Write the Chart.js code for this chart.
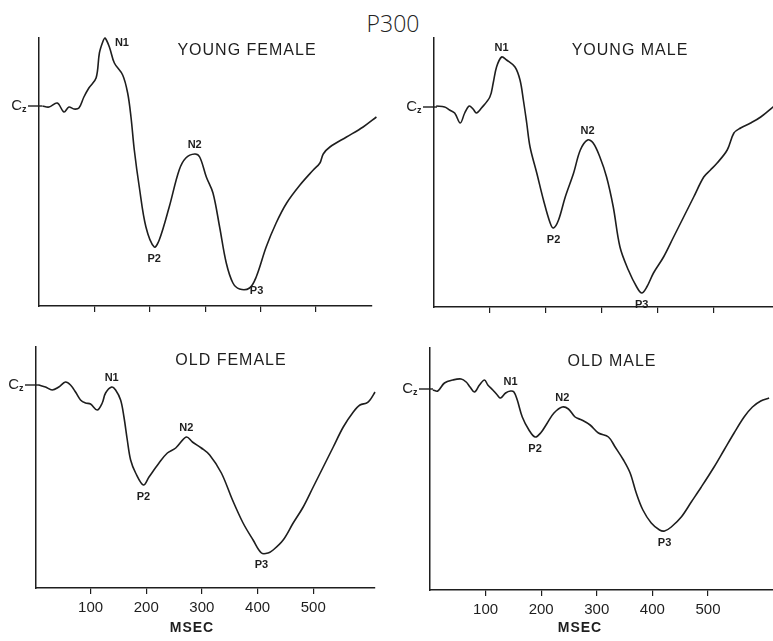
<!DOCTYPE html>
<html>
<head>
<meta charset="utf-8">
<title>P300</title>
<script src="https://cdn.jsdelivr.net/npm/chart.js@4"></script>
<style>
  body { margin: 0; background: #fff; }
  #wrap { position: relative; width: 773px; height: 641px; overflow: hidden; }
  #wrap canvas { position: absolute; }
  #titulo { position: absolute; left: 0; top: 8px; width: 786px; text-align: center;
            font: 300 23px "Open Sans", sans-serif; line-height: 30px; color: #222; }
</style>
</head>
<body>
<div id="wrap">
  <div id="titulo">P300</div>
  <canvas id="yf" width="386" height="320" style="left:0;top:0"></canvas>
  <canvas id="ym" width="387" height="320" style="left:386px;top:0"></canvas>
  <canvas id="of" width="386" height="321" style="left:0;top:320px"></canvas>
  <canvas id="om" width="387" height="321" style="left:386px;top:320px"></canvas>
</div>
<script>
// Dados (tempo em ms, amplitude relativa a Cz; negativo = para cima)
const msecTicks = [100, 200, 300, 400, 500];
const peakNames = ['N1', 'N2', 'P2', 'P3'];

// Young female
const yfMs  = [6, 18, 33, 45, 54, 63, 72, 81, 90, 103, 109, 115, 119, 127, 136, 151, 160, 166, 172, 181,
               193, 208, 217, 235, 253, 265, 281, 290, 302, 314, 326, 338, 350, 362, 380, 392, 410, 428,
               447, 471, 495, 507, 513, 525, 555, 585, 609];
const yfAmp = [0, 0.1, -0.3, 0.6, 0.1, 0.3, 0.2, -0.9, -1.8, -2.8, -5.3, -6.4, -6.8, -5.9, -4.3, -3.1, -1.3, 1.1, 4.4, 8.1,
               12.1, 14.1, 13.4, 10.1, 6.4, 5.2, 4.8, 5.1, 7.1, 8.7, 12.1, 15.7, 17.7, 18.3, 18.2, 17.1, 14.1, 11.7,
               9.7, 7.9, 6.4, 5.7, 4.8, 4.1, 3.1, 2.1, 1.1];
const yfPeaks = [119, 281, 208, 362];

// Young male
const ymMs  = [4, 19, 28, 37, 47, 55, 63, 70, 76, 85, 100, 106, 112, 121, 130, 145, 154, 160, 166, 172,
               184, 196, 208, 214, 223, 235, 250, 262, 275, 285, 297, 309, 321, 333, 348, 363, 372, 381,
               393, 411, 429, 447, 465, 483, 495, 507, 525, 537, 549, 567, 585, 609];
const ymAmp = [-0.1, 0, 0.3, 0.6, 1.6, 0.6, -0.1, 0.2, 0.6, 0.1, -1.0, -2.4, -4.0, -5.0, -4.7, -4.0, -2.7, -0.7, 1.6, 4.0,
               6.6, 9.3, 11.6, 12.1, 11.3, 9.0, 6.6, 4.3, 3.3, 3.6, 5.0, 7.0, 10.0, 14.0, 16.3, 18.0, 18.6, 18.0,
               16.6, 15.0, 13.0, 11.0, 9.0, 7.0, 6.3, 5.6, 4.3, 2.6, 2.1, 1.6, 1.0, -0.1];
const ymPeaks = [121, 275, 214, 372];

// Old female
const ofMs  = [7, 19, 31, 43, 55, 64, 73, 82, 91, 100, 112, 121, 127, 138, 145, 154, 160, 166, 172, 181,
               195, 205, 223, 238, 253, 272, 283, 299, 314, 335, 355, 374, 392, 407, 419, 428, 446, 464,
               482, 500, 518, 536, 554, 572, 584, 596, 602, 611];
const ofAmp = [0, 0.2, 0.5, 0.2, -0.3, 0, 0.7, 1.5, 1.8, 1.9, 2.5, 1.8, 0.8, 0.2, 0.5, 1.5, 3.2, 5.5, 7.5, 8.8,
               10.0, 9.2, 7.8, 6.8, 6.3, 5.2, 5.7, 6.3, 7.0, 8.8, 11.5, 13.8, 15.5, 16.8, 16.8, 16.5, 15.5, 13.8,
               12.2, 10.2, 8.2, 6.2, 4.2, 2.7, 2.0, 1.8, 1.5, 0.7];
const ofPeaks = [138, 272, 195, 407];

// Old male
const omMs  = [5, 14, 26, 41, 56, 65, 72, 80, 89, 98, 104, 113, 121, 127, 136, 145, 151, 157, 166, 178,
               189, 199, 211, 223, 238, 249, 261, 273, 288, 303, 321, 333, 348, 360, 371, 383, 398, 413,
               422, 434, 452, 470, 488, 511, 529, 547, 565, 580, 595, 610];
const omAmp = [0.1, 0.2, -0.6, -0.9, -1.0, -0.7, -0.2, 0.3, -0.4, -0.9, -0.4, 0.1, 0.6, 0.9, 0.4, 0.2, 0.3, 1.1, 2.8, 4.1,
               4.8, 4.4, 3.4, 2.4, 1.8, 2.0, 2.8, 3.1, 3.6, 4.4, 4.8, 5.8, 7.1, 8.4, 10.4, 12.1, 13.4, 14.1,
               14.2, 13.8, 12.8, 11.3, 9.8, 7.8, 6.1, 4.4, 2.8, 1.8, 1.2, 0.9];
const omPeaks = [145, 238, 189, 422];

const INK = '#1e1e1e';

// Plugin para Cz, titulo do painel, nomes dos picos e MSEC
const decoracao = {
    id: 'decoracao',
    afterDatasetsDraw(chart, args, o) {
        const { ctx, chartArea: ca, scales: { x, y } } = chart;
        ctx.save();
        ctx.fillStyle = INK;
        ctx.strokeStyle = INK;

        // marca Cz
        const cz = y.getPixelForValue(0);
        ctx.lineWidth = 1.4;
        ctx.beginPath();
        ctx.moveTo(ca.left - 11, cz);
        ctx.lineTo(ca.left + 3, cz);
        ctx.stroke();
        ctx.textBaseline = 'middle';
        ctx.textAlign = 'right';
        ctx.font = '15px "Liberation Sans"';
        ctx.fillText('C', ca.left - 17, cz);
        ctx.textAlign = 'left';
        ctx.font = 'bold 9px "Liberation Sans"';
        ctx.fillText('z', ca.left - 17, cz + 4);

        // titulo do painel
        ctx.textAlign = 'center';
        ctx.font = '16px "Liberation Sans"';
        ctx.letterSpacing = '1px';
        ctx.fillText(o.titulo, o.tituloPos[0], o.tituloPos[1]);
        ctx.letterSpacing = '0px';

        // nomes dos picos, presos ao ponto da curva mais proximo
        ctx.font = 'bold 11px "Liberation Sans"';
        const pts = chart.data.datasets[0].data;
        o.picos.forEach((t, i) => {
            const nome = peakNames[i];
            const p = pts.reduce((a, b) => Math.abs(b.x - t) < Math.abs(a.x - t) ? b : a);
            const sh = (o.desloc && o.desloc[nome]) || (nome[0] === 'N' ? [0, -9] : [0, 12]);
            ctx.fillText(nome, x.getPixelForValue(p.x) + sh[0], y.getPixelForValue(p.y) + sh[1]);
        });

        if (o.msec) {
            ctx.font = 'bold 14px "Liberation Sans"';
            ctx.letterSpacing = '1px';
            ctx.fillText('MSEC', o.msec[0], o.msec[1]);
        }
        ctx.restore();
    }
};

function desenharPainel(id, ms, amp, picos, cfg) {
    const comRotulos = !!cfg.msec;
    return new Chart(document.getElementById(id), {
        type: 'line',
        data: {
            datasets: [{
                data: ms.map((t, i) => ({ x: t, y: amp[i] })),
                borderColor: INK,
                borderWidth: 1.6,
                pointRadius: 0,
                fill: false,
                tension: 0.35,
                clip: false
            }]
        },
        options: {
            responsive: false,
            animation: false,
            devicePixelRatio: 1,
            layout: { padding: { top: cfg.padTop, right: cfg.padRight, left: 0, bottom: 0 } },
            plugins: {
                legend: { display: false },
                tooltip: { enabled: false },
                decoracao: {
                    titulo: cfg.titulo,
                    tituloPos: cfg.tituloPos,
                    picos: picos,
                    desloc: cfg.desloc,
                    msec: cfg.msec
                }
            },
            scales: {
                x: {
                    type: 'linear',
                    min: cfg.xMin,
                    max: cfg.xMax,
                    afterBuildTicks: s => { s.ticks = msecTicks.map(v => ({ value: v })); },
                    afterFit: s => { s.height = cfg.xH; },
                    ticks: {
                        autoSkip: false,
                        maxRotation: 0,
                        padding: 5,
                        color: comRotulos ? INK : 'rgba(0,0,0,0)',
                        font: { family: '"Liberation Sans"', size: 15 }
                    },
                    grid: { drawOnChartArea: false, drawTicks: true, tickLength: 6, color: INK, lineWidth: 1.2 },
                    border: { display: true, color: INK, width: 1.5 }
                },
                y: {
                    reverse: true,
                    min: cfg.yMin,
                    max: cfg.yMax,
                    afterFit: s => { s.width = cfg.yW; },
                    ticks: { display: false },
                    grid: { display: false },
                    border: { display: true, color: INK, width: 1.5 }
                }
            }
        },
        plugins: [decoracao]
    });
}

document.addEventListener('DOMContentLoaded', function() {
    desenharPainel('yf', yfMs, yfAmp, yfPeaks, {
        titulo: 'YOUNG FEMALE', tituloPos: [247, 51],
        padTop: 38, padRight: 14, xH: 14, yW: 39,
        xMin: 0, xMax: 601, yMin: -6.8, yMax: 20,
        desloc: { N1: [17, 5], P3: [17, 2] }
    });
    desenharPainel('ym', ymMs, ymAmp, ymPeaks, {
        titulo: 'YOUNG MALE', tituloPos: [244, 51],
        padTop: 38, padRight: 0, xH: 13, yW: 48,
        xMin: 0, xMax: 607, yMin: -6.9, yMax: 20
    });
    desenharPainel('of', ofMs, ofAmp, ofPeaks, {
        titulo: 'OLD FEMALE', tituloPos: [231, 41],
        padTop: 27, padRight: 11, xH: 53, yW: 36,
        xMin: 2, xMax: 611, yMin: -3.8, yMax: 20.3,
        msec: [192, 308]
    });
    desenharPainel('om', omMs, omAmp, omPeaks, {
        titulo: 'OLD MALE', tituloPos: [226, 42],
        padTop: 28, padRight: 0, xH: 51, yW: 44,
        xMin: 0, xMax: 617, yMin: -4.1, yMax: 20.1,
        msec: [194, 308]
    });
});
</script>
</body>
</html>
